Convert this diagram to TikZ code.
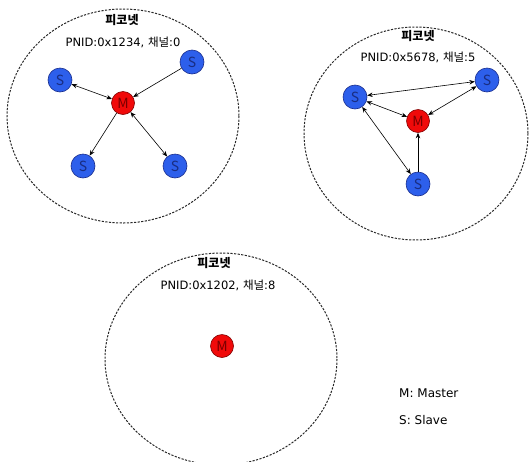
\documentclass[tikz,border=0pt]{standalone}
\usepackage{fontspec}
\setmainfont{DejaVu Sans}
\newfontfamily\krfont{Noto Sans CJK KR}
\newcommand{\kr}[1]{{\krfont #1}}
\usetikzlibrary{arrows.meta}
\definecolor{sfill}{RGB}{45,95,235}
\definecolor{sdraw}{RGB}{25,45,140}
\definecolor{stext}{RGB}{25,45,130}
\definecolor{mfill}{RGB}{240,10,10}
\definecolor{mdraw}{RGB}{130,0,0}
\definecolor{mtext}{RGB}{120,0,0}
\definecolor{dashcol}{RGB}{40,40,40}
\tikzset{
  slave/.style={circle, fill=sfill, draw=sdraw, line width=0.6pt, minimum size=24pt, inner sep=0pt, text=stext, font=\krfont\fontsize{14}{14}\selectfont},
  master/.style={circle, fill=mfill, draw=mdraw, line width=0.6pt, minimum size=23pt, inner sep=0pt, text=mtext, font=\krfont\fontsize{14}{14}\selectfont},
  net/.style={draw=dashcol, dash pattern=on 2.2pt off 1.4pt, line width=1pt},
  link/.style={draw=black, line width=0.6pt},
  tip/.tip={Stealth[length=5.5pt,width=4.5pt]},
  title/.style={font=\krfont\fontsize{12}{12}\selectfont\bfseries, inner sep=0pt},
  info/.style={font=\fontsize{11.5}{12}\selectfont, inner sep=0pt},
  legend/.style={font=\fontsize{12}{12}\selectfont, inner sep=0pt, anchor=west}
}
\begin{document}
\begin{tikzpicture}[x=1pt,y=-1pt]
\useasboundingbox (0,0) rectangle (529,461);
\begin{scope}
\clip (0,0) rectangle (529,461);
% circles
\draw[net] (123,116) ellipse [x radius=116, y radius=107];
\draw[net] (416,133.5) ellipse [x radius=112, y radius=106.5];
\draw[net] (221,359) ellipse [x radius=116, y radius=106];
\end{scope}
% titles
\node[title] (t1) at (122,20) {피코넷};
\node[info]  (p1) at (123,42) {PNID:0x1234, \kr{채널}:0};
\node[title] (t2) at (418,36) {피코넷};
\node[info]  (p2) at (418,57) {PNID:0x5678, \kr{채널}:5};
\node[title] (t3) at (214,263) {피코넷};
\node[info]  (p3) at (218,285) {PNID:0x1202, \kr{채널}:8};
% piconet 1
\node[master] (m1) at (123,103) {M};
\node[slave] (a1) at (60,80) {S};
\node[slave] (b1) at (192,62) {S};
\node[slave] (c1) at (83,166) {S};
\node[slave] (d1) at (175,166) {S};
\draw[link,tip-tip] (a1) -- (m1);
\draw[link,-tip] (b1) -- (m1);
\draw[link,-tip] (m1) -- (c1);
\draw[link,tip-tip] (m1) -- (d1);
% piconet 2
\node[master] (m2) at (418,121) {M};
\node[slave] (a2) at (355,97) {S};
\node[slave] (b2) at (487,80) {S};
\node[slave] (c2) at (418,184) {S};
\draw[link,tip-tip] (a2) -- (b2);
\draw[link,tip-tip] (a2) -- (m2);
\draw[link,tip-tip] (m2) -- (b2);
\draw[link,tip-tip] (a2) -- (c2);
\draw[link,-tip] (c2) -- (m2);
% piconet 3
\node[master] (m3) at (222,346) {M};
% legend
\node[legend] (l1) at (399,393) {M: Master};
\node[legend] (l2) at (399,420) {S: Slave};
\end{tikzpicture}
\end{document}
